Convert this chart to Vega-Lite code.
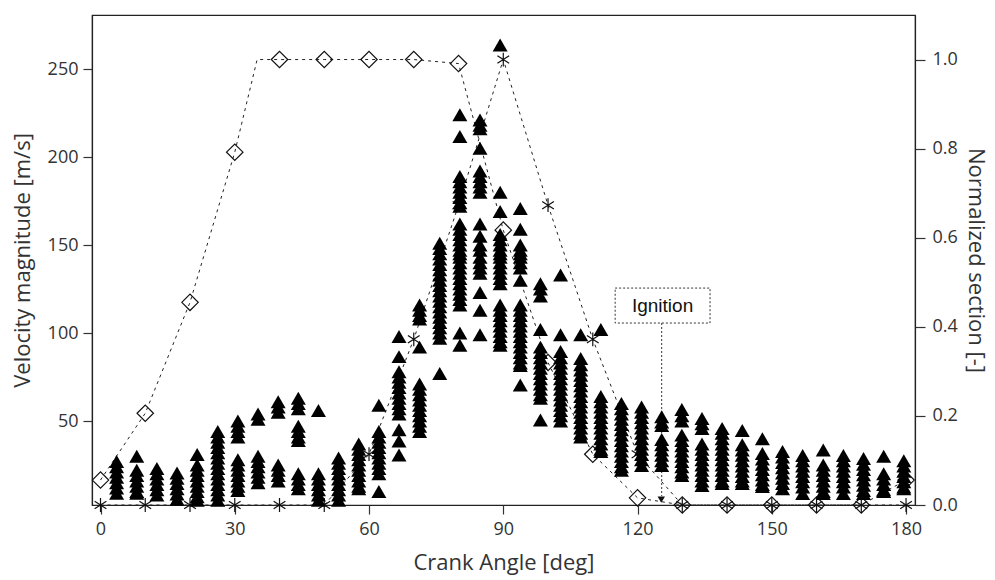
{
"$schema":"https://vega.github.io/schema/vega-lite/v6.json",
"width":823,"height":490,"autosize":"none",
"padding":{"left":92,"top":15,"right":80,"bottom":75},
"background":"white",
"config":{"view":{"stroke":"#222","strokeWidth":1.2},
"axis":{"labelFont":"Open Sans","titleFont":"Open Sans","labelFontSize":18,"titleFontSize":22,"labelColor":"#333","titleColor":"#333","titleFontWeight":"normal","tickColor":"#333","domainColor":"#222","tickSize":9,"grid":false,"domainWidth":1.2,"tickWidth":1.2}},
"datasets":{
"diam":[{"a":0,"n":0.056},{"a":10,"n":0.206},{"a":20,"n":0.455},{"a":30,"n":0.792},{"a":35,"n":1.0},{"a":40,"n":1.0},{"a":50,"n":1.0},{"a":60,"n":1.0},{"a":70,"n":1.0},{"a":80,"n":0.991},{"a":90,"n":0.617},{"a":100,"n":0.32},{"a":110,"n":0.114},{"a":120,"n":0.016},{"a":130,"n":0},{"a":140,"n":0},{"a":150,"n":0},{"a":160,"n":0},{"a":170,"n":0},{"a":180,"n":0.056}],
"star":[{"a":0,"n":0},{"a":10,"n":0},{"a":20,"n":0},{"a":30,"n":0},{"a":40,"n":0},{"a":50,"n":0},{"a":60,"n":0.114},{"a":70,"n":0.372},{"a":80,"n":0.673},{"a":90,"n":1.0},{"a":100,"n":0.673},{"a":110,"n":0.372},{"a":120,"n":0.114},{"a":130,"n":0},{"a":140,"n":0},{"a":150,"n":0},{"a":160,"n":0},{"a":170,"n":0},{"a":180,"n":0}],
"ign":[{"a":115.0,"a2":136.2,"n":0.4085,"n2":0.487,"ta":125.6,"tn":0.447,"ra":125.4,"rn2":0.02,"ha":125.3,"hn":0.012,"label":"Ignition"}],
"tri":[
{"a":3.6,"v":27},{"a":3.6,"v":24},{"a":3.6,"v":21},{"a":3.6,"v":18},{"a":3.6,"v":15},{"a":3.6,"v":12},{"a":3.6,"v":9},
{"a":8.1,"v":30},{"a":8.1,"v":22},{"a":8.1,"v":19},{"a":8.1,"v":16},{"a":8.1,"v":13},{"a":8.1,"v":10},{"a":8.1,"v":9},
{"a":12.6,"v":23},{"a":12.6,"v":20},{"a":12.6,"v":17},{"a":12.6,"v":14},{"a":12.6,"v":11},{"a":12.6,"v":8},
{"a":17.1,"v":20.5},{"a":17.1,"v":17.5},{"a":17.1,"v":14.5},{"a":17.1,"v":11.5},{"a":17.1,"v":8.5},{"a":17.1,"v":5.5},
{"a":21.6,"v":31},{"a":21.6,"v":25},{"a":21.6,"v":22},{"a":21.6,"v":19},{"a":21.6,"v":16},{"a":21.6,"v":13},{"a":21.6,"v":10},{"a":21.6,"v":7},{"a":21.6,"v":5},
{"a":26.2,"v":44},{"a":26.2,"v":41},{"a":26.2,"v":38},{"a":26.2,"v":35},{"a":26.2,"v":32},{"a":26.2,"v":29},{"a":26.2,"v":26},{"a":26.2,"v":23},{"a":26.2,"v":20},{"a":26.2,"v":17},{"a":26.2,"v":14},{"a":26.2,"v":11},{"a":26.2,"v":8},{"a":26.2,"v":5},
{"a":30.7,"v":50},{"a":30.7,"v":47},{"a":30.7,"v":44},{"a":30.7,"v":41},{"a":30.7,"v":28},{"a":30.7,"v":25},{"a":30.7,"v":22},{"a":30.7,"v":19},{"a":30.7,"v":16},{"a":30.7,"v":13},{"a":30.7,"v":10.5},
{"a":35.2,"v":54},{"a":35.2,"v":51},{"a":35.2,"v":30},{"a":35.2,"v":27},{"a":35.2,"v":24},{"a":35.2,"v":21},{"a":35.2,"v":18},{"a":35.2,"v":15},
{"a":39.7,"v":61},{"a":39.7,"v":58},{"a":39.7,"v":55},{"a":39.7,"v":25},{"a":39.7,"v":22},{"a":39.7,"v":19},{"a":39.7,"v":16},
{"a":44.2,"v":63},{"a":44.2,"v":60},{"a":44.2,"v":57},{"a":44.2,"v":47},{"a":44.2,"v":44},{"a":44.2,"v":41},{"a":44.2,"v":39},{"a":44.2,"v":20},{"a":44.2,"v":17},{"a":44.2,"v":14},{"a":44.2,"v":11.5},
{"a":48.7,"v":56},{"a":48.7,"v":20},{"a":48.7,"v":17},{"a":48.7,"v":14},{"a":48.7,"v":11},{"a":48.7,"v":8},{"a":48.7,"v":5},
{"a":53.2,"v":29},{"a":53.2,"v":26},{"a":53.2,"v":23},{"a":53.2,"v":20},{"a":53.2,"v":17},{"a":53.2,"v":14},{"a":53.2,"v":11},{"a":53.2,"v":8},{"a":53.2,"v":5},
{"a":57.7,"v":37},{"a":57.7,"v":34},{"a":57.7,"v":31},{"a":57.7,"v":28},{"a":57.7,"v":25},{"a":57.7,"v":22},{"a":57.7,"v":19},{"a":57.7,"v":16},{"a":57.7,"v":13},{"a":57.7,"v":11.6},
{"a":62.2,"v":59},{"a":62.2,"v":44},{"a":62.2,"v":41},{"a":62.2,"v":38},{"a":62.2,"v":35},{"a":62.2,"v":32},{"a":62.2,"v":29},{"a":62.2,"v":26},{"a":62.2,"v":23},{"a":62.2,"v":20},{"a":62.2,"v":10},
{"a":66.7,"v":98},{"a":66.7,"v":86.6},{"a":66.7,"v":78},{"a":66.7,"v":75},{"a":66.7,"v":72},{"a":66.7,"v":69},{"a":66.7,"v":66},{"a":66.7,"v":63},{"a":66.7,"v":60},{"a":66.7,"v":57},{"a":66.7,"v":54},{"a":66.7,"v":45},{"a":66.7,"v":38.6},{"a":66.7,"v":30.7},
{"a":71.3,"v":116},{"a":71.3,"v":113},{"a":71.3,"v":110},{"a":71.3,"v":108},{"a":71.3,"v":92},{"a":71.3,"v":71},{"a":71.3,"v":68},{"a":71.3,"v":65},{"a":71.3,"v":62},{"a":71.3,"v":59},{"a":71.3,"v":56},{"a":71.3,"v":53},{"a":71.3,"v":50},{"a":71.3,"v":47},{"a":71.3,"v":44},
{"a":75.8,"v":151},{"a":75.8,"v":148},{"a":75.8,"v":145},{"a":75.8,"v":142},{"a":75.8,"v":139},{"a":75.8,"v":136},{"a":75.8,"v":133},{"a":75.8,"v":130},{"a":75.8,"v":127},{"a":75.8,"v":124},{"a":75.8,"v":121},{"a":75.8,"v":118},{"a":75.8,"v":115},{"a":75.8,"v":112},{"a":75.8,"v":109},{"a":75.8,"v":106},{"a":75.8,"v":103},{"a":75.8,"v":100},{"a":75.8,"v":97},{"a":75.8,"v":77},
{"a":80.3,"v":224},{"a":80.3,"v":211.6},{"a":80.3,"v":189},{"a":80.3,"v":186},{"a":80.3,"v":183},{"a":80.3,"v":180},{"a":80.3,"v":177},{"a":80.3,"v":174},{"a":80.3,"v":172},{"a":80.3,"v":162},{"a":80.3,"v":159},{"a":80.3,"v":156},{"a":80.3,"v":153},{"a":80.3,"v":150},{"a":80.3,"v":147},{"a":80.3,"v":145},{"a":80.3,"v":143},{"a":80.3,"v":140},{"a":80.3,"v":137},{"a":80.3,"v":134},{"a":80.3,"v":131},{"a":80.3,"v":128},{"a":80.3,"v":125},{"a":80.3,"v":122},{"a":80.3,"v":119},{"a":80.3,"v":116},{"a":80.3,"v":100},{"a":80.3,"v":93},
{"a":84.8,"v":221},{"a":84.8,"v":218},{"a":84.8,"v":216},{"a":84.8,"v":205},{"a":84.8,"v":192},{"a":84.8,"v":189},{"a":84.8,"v":186},{"a":84.8,"v":183},{"a":84.8,"v":180},{"a":84.8,"v":162},{"a":84.8,"v":155},{"a":84.8,"v":150},{"a":84.8,"v":147},{"a":84.8,"v":143},{"a":84.8,"v":140},{"a":84.8,"v":137},{"a":84.8,"v":134},{"a":84.8,"v":123},{"a":84.8,"v":113},{"a":84.8,"v":99},
{"a":89.3,"v":263.6},{"a":89.3,"v":180},{"a":89.3,"v":169},{"a":89.3,"v":156},{"a":89.3,"v":153},{"a":89.3,"v":150},{"a":89.3,"v":147},{"a":89.3,"v":145},{"a":89.3,"v":143},{"a":89.3,"v":140},{"a":89.3,"v":137},{"a":89.3,"v":134},{"a":89.3,"v":131},{"a":89.3,"v":128},{"a":89.3,"v":116},{"a":89.3,"v":113},{"a":89.3,"v":110},{"a":89.3,"v":107},{"a":89.3,"v":104},{"a":89.3,"v":101},{"a":89.3,"v":98},{"a":89.3,"v":95},{"a":89.3,"v":93},
{"a":93.8,"v":170.7},{"a":93.8,"v":159},{"a":93.8,"v":150},{"a":93.8,"v":147},{"a":93.8,"v":145},{"a":93.8,"v":143},{"a":93.8,"v":140},{"a":93.8,"v":137},{"a":93.8,"v":130},{"a":93.8,"v":116},{"a":93.8,"v":113},{"a":93.8,"v":110},{"a":93.8,"v":107},{"a":93.8,"v":104},{"a":93.8,"v":101},{"a":93.8,"v":98},{"a":93.8,"v":95},{"a":93.8,"v":92},{"a":93.8,"v":89},{"a":93.8,"v":86},{"a":93.8,"v":83},{"a":93.8,"v":81.5},{"a":93.8,"v":70.5},
{"a":98.3,"v":128},{"a":98.3,"v":125},{"a":98.3,"v":121},{"a":98.3,"v":102},{"a":98.3,"v":92},{"a":98.3,"v":89},{"a":98.3,"v":86},{"a":98.3,"v":83},{"a":98.3,"v":80},{"a":98.3,"v":77},{"a":98.3,"v":74},{"a":98.3,"v":71},{"a":98.3,"v":68},{"a":98.3,"v":65},{"a":98.3,"v":63},{"a":98.3,"v":50.6},
{"a":102.8,"v":133},{"a":102.8,"v":99},{"a":102.8,"v":89.5},{"a":102.8,"v":86},{"a":102.8,"v":83},{"a":102.8,"v":80},{"a":102.8,"v":77},{"a":102.8,"v":74},{"a":102.8,"v":71},{"a":102.8,"v":68},{"a":102.8,"v":65},{"a":102.8,"v":62},{"a":102.8,"v":59},{"a":102.8,"v":56},{"a":102.8,"v":53},{"a":102.8,"v":50},
{"a":107.3,"v":99},{"a":107.3,"v":85.5},{"a":107.3,"v":82},{"a":107.3,"v":79},{"a":107.3,"v":76},{"a":107.3,"v":73},{"a":107.3,"v":70},{"a":107.3,"v":67},{"a":107.3,"v":64},{"a":107.3,"v":61},{"a":107.3,"v":58},{"a":107.3,"v":55},{"a":107.3,"v":52},{"a":107.3,"v":49},{"a":107.3,"v":46},{"a":107.3,"v":43},{"a":107.3,"v":41},
{"a":111.8,"v":102},{"a":111.8,"v":64},{"a":111.8,"v":61},{"a":111.8,"v":58},{"a":111.8,"v":55},{"a":111.8,"v":52},{"a":111.8,"v":49},{"a":111.8,"v":46},{"a":111.8,"v":43},{"a":111.8,"v":40},{"a":111.8,"v":37},{"a":111.8,"v":34},{"a":111.8,"v":32.7},
{"a":116.4,"v":60},{"a":116.4,"v":57},{"a":116.4,"v":54},{"a":116.4,"v":51},{"a":116.4,"v":48},{"a":116.4,"v":45},{"a":116.4,"v":42},{"a":116.4,"v":39},{"a":116.4,"v":36},{"a":116.4,"v":33},{"a":116.4,"v":30},{"a":116.4,"v":27},{"a":116.4,"v":24},{"a":116.4,"v":22},
{"a":120.9,"v":58},{"a":120.9,"v":55},{"a":120.9,"v":52},{"a":120.9,"v":49},{"a":120.9,"v":46},{"a":120.9,"v":43},{"a":120.9,"v":40},{"a":120.9,"v":37},{"a":120.9,"v":34},{"a":120.9,"v":31},{"a":120.9,"v":28},{"a":120.9,"v":24.7},
{"a":125.4,"v":52.5},{"a":125.4,"v":49.5},{"a":125.4,"v":47.4},{"a":125.4,"v":39.5},{"a":125.4,"v":36.5},{"a":125.4,"v":33.5},{"a":125.4,"v":30.5},{"a":125.4,"v":27.5},{"a":125.4,"v":24.7},
{"a":129.9,"v":56.5},{"a":129.9,"v":53},{"a":129.9,"v":50},{"a":129.9,"v":42},{"a":129.9,"v":39},{"a":129.9,"v":36},{"a":129.9,"v":33},{"a":129.9,"v":30},{"a":129.9,"v":27},{"a":129.9,"v":24},{"a":129.9,"v":21},{"a":129.9,"v":19},
{"a":134.4,"v":51.4},{"a":134.4,"v":48.5},{"a":134.4,"v":45.7},{"a":134.4,"v":37},{"a":134.4,"v":34},{"a":134.4,"v":31},{"a":134.4,"v":28},{"a":134.4,"v":25},{"a":134.4,"v":22},{"a":134.4,"v":19},{"a":134.4,"v":16},{"a":134.4,"v":13.4},
{"a":138.9,"v":45.7},{"a":138.9,"v":43},{"a":138.9,"v":40},{"a":138.9,"v":37},{"a":138.9,"v":34},{"a":138.9,"v":31},{"a":138.9,"v":28},{"a":138.9,"v":25},{"a":138.9,"v":22},{"a":138.9,"v":19},{"a":138.9,"v":16},{"a":138.9,"v":14.5},
{"a":143.4,"v":44.6},{"a":143.4,"v":36.6},{"a":143.4,"v":33.5},{"a":143.4,"v":30.5},{"a":143.4,"v":27.5},{"a":143.4,"v":24.5},{"a":143.4,"v":21.5},{"a":143.4,"v":18.5},{"a":143.4,"v":16},{"a":143.4,"v":14.5},
{"a":147.9,"v":40},{"a":147.9,"v":31.5},{"a":147.9,"v":28.5},{"a":147.9,"v":25.5},{"a":147.9,"v":22.5},{"a":147.9,"v":19.5},{"a":147.9,"v":16.5},{"a":147.9,"v":14},{"a":147.9,"v":12.8},
{"a":152.4,"v":32.7},{"a":152.4,"v":29.5},{"a":152.4,"v":26.5},{"a":152.4,"v":23.5},{"a":152.4,"v":20.5},{"a":152.4,"v":17.5},{"a":152.4,"v":14.5},{"a":152.4,"v":11.6},
{"a":156.9,"v":30.4},{"a":156.9,"v":27.5},{"a":156.9,"v":24.5},{"a":156.9,"v":21.5},{"a":156.9,"v":18.5},{"a":156.9,"v":15.5},{"a":156.9,"v":12.5},{"a":156.9,"v":8.8},
{"a":161.5,"v":33.5},{"a":161.5,"v":25},{"a":161.5,"v":22},{"a":161.5,"v":19},{"a":161.5,"v":16},{"a":161.5,"v":13},{"a":161.5,"v":10},{"a":161.5,"v":8.8},
{"a":166.0,"v":30.4},{"a":166.0,"v":27.5},{"a":166.0,"v":24.5},{"a":166.0,"v":21.5},{"a":166.0,"v":18.5},{"a":166.0,"v":15.5},{"a":166.0,"v":12.5},{"a":166.0,"v":8.8},
{"a":170.5,"v":28.7},{"a":170.5,"v":25.5},{"a":170.5,"v":22.5},{"a":170.5,"v":19.5},{"a":170.5,"v":16.5},{"a":170.5,"v":13.5},{"a":170.5,"v":10.5},{"a":170.5,"v":8.8},
{"a":175.0,"v":30},{"a":175.0,"v":20},{"a":175.0,"v":17},{"a":175.0,"v":14},{"a":175.0,"v":11},{"a":175.0,"v":10},
{"a":179.5,"v":27.5},{"a":179.5,"v":24.5},{"a":179.5,"v":21.5},{"a":179.5,"v":18.5},{"a":179.5,"v":15.5},{"a":179.5,"v":12.5},{"a":179.5,"v":11.6}
]},
"layer":[
{"layer":[
 {"data":{"name":"diam"},"mark":{"type":"line","stroke":"#222","strokeWidth":1,"strokeDash":[3,4]},
  "encoding":{"x":{"field":"a","type":"quantitative","scale":{"domain":[-1.9,182],"nice":false},"axis":{"values":[0,30,60,90,120,150,180],"title":"Crank Angle [deg]","labelPadding":6,"titlePadding":14}},
   "y":{"field":"n","type":"quantitative","scale":{"domain":[0,1.1],"nice":false,"zero":false},"axis":{"orient":"right","values":[0,0.2,0.4,0.6,0.8,1.0],"format":".1f","title":"Normalized section [-]","labelPadding":7,"titlePadding":6,"tickSize":10}}}},
 {"data":{"name":"star"},"mark":{"type":"line","stroke":"#222","strokeWidth":1,"strokeDash":[3,4]},
  "encoding":{"x":{"field":"a","type":"quantitative"},"y":{"field":"n","type":"quantitative"}}},
 {"data":{"name":"diam"},"transform":[{"filter":"datum.a % 10 == 0"}],"mark":{"type":"point","shape":"diamond","size":270,"filled":false,"stroke":"#111","strokeWidth":1.2,"opacity":1},
  "encoding":{"x":{"field":"a","type":"quantitative"},"y":{"field":"n","type":"quantitative"}}},
 {"data":{"name":"star"},"mark":{"type":"point","shape":"M0,-1L0,1M-0.85,-0.55L0.85,0.55M-0.85,0.55L0.85,-0.55","size":190,"filled":false,"stroke":"#111","strokeWidth":1.2,"opacity":1},
  "encoding":{"x":{"field":"a","type":"quantitative"},"y":{"field":"n","type":"quantitative"}}},
 {"data":{"name":"ign"},"mark":{"type":"rect","fill":"white","stroke":"#333","strokeWidth":1,"strokeDash":[2,2]},
  "encoding":{"x":{"field":"a","type":"quantitative"},"x2":{"field":"a2"},"y":{"field":"n","type":"quantitative"},"y2":{"field":"n2"}}},
 {"data":{"name":"ign"},"mark":{"type":"text","font":"Liberation Sans","fontSize":19,"color":"#111"},
  "encoding":{"x":{"field":"ta","type":"quantitative"},"y":{"field":"tn","type":"quantitative"},"text":{"field":"label"}}},
 {"data":{"name":"ign"},"mark":{"type":"rule","stroke":"#333","strokeWidth":1,"strokeDash":[2,2]},
  "encoding":{"x":{"field":"ra","type":"quantitative"},"y":{"field":"n","type":"quantitative"},"y2":{"field":"rn2"}}},
 {"data":{"name":"ign"},"mark":{"type":"point","shape":"triangle-down","size":55,"filled":true,"color":"#111","opacity":1},
  "encoding":{"x":{"field":"ha","type":"quantitative"},"y":{"field":"hn","type":"quantitative"}}}
]},
{"data":{"name":"tri"},"mark":{"type":"point","shape":"triangle-up","size":225,"filled":true,"color":"#000","opacity":1},
 "encoding":{"x":{"field":"a","type":"quantitative"},
  "y":{"field":"v","type":"quantitative","scale":{"domain":[2.3,280.7],"nice":false,"zero":false},"axis":{"orient":"left","values":[50,100,150,200,250],"title":"Velocity magnitude [m/s]","labelPadding":5,"titlePadding":13}}}}
],
"resolve":{"scale":{"y":"independent"}}
}
